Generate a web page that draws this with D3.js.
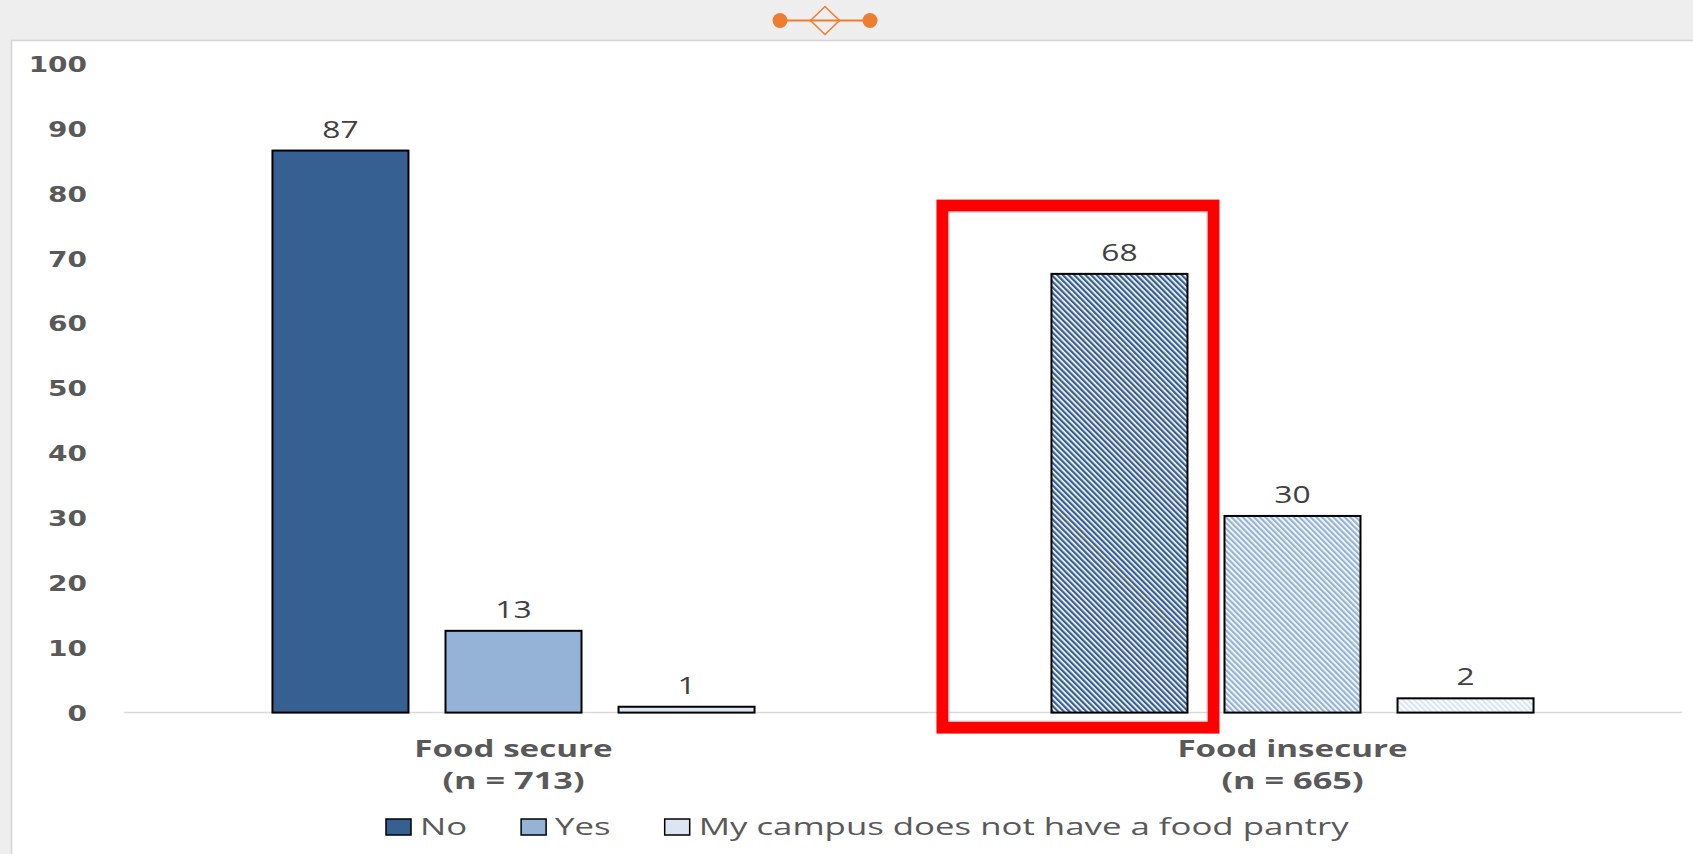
<!DOCTYPE html>
<html>
<head>
<meta charset="utf-8">
<script src="https://cdn.jsdelivr.net/npm/d3@7"></script>
<style>
  html, body { margin: 0; padding: 0; background: #EEEEEE; }
  svg { display: block; }
</style>
</head>
<body>
<svg id="chart" width="1693" height="854"></svg>
<script>
// ---------- data ----------
const categories = ["Food secure", "Food insecure"];
const sampleSizes = ["(n = 713)", "(n = 665)"];
const seriesNames = ["No", "Yes", "My campus does not have a food pantry"];
const noValues = [86.6, 67.6];
const yesValues = [12.6, 30.3];
const pantryValues = [0.9, 2.2];
const yTicks = [0, 10, 20, 30, 40, 50, 60, 70, 80, 90, 100];

// ---------- setup ----------
const W = 1693, H = 854;
const svg = d3.select("#chart");
const seriesValues = [noValues, yesValues, pantryValues];
const solidColors = ["#376092", "#95B3D7", "#DCE6F2"];
const textGray = "#595959";

function stretch(sel, sx) {
  sel.each(function () {
    const w = this.getComputedTextLength();
    d3.select(this).attr("textLength", w * sx).attr("lengthAdjust", "spacingAndGlyphs");
  });
}

// patterns (wide downward diagonal) for the highlighted group
const defs = svg.append("defs");
solidColors.forEach((c, i) => {
  const p = defs.append("pattern")
    .attr("id", "pat" + i)
    .attr("patternUnits", "userSpaceOnUse")
    .attr("width", 4).attr("height", 4)
    .attr("patternTransform", "rotate(-45)");
  p.append("rect").attr("width", 4).attr("height", 4).attr("fill", "#ffffff");
  p.append("rect").attr("width", 2.3).attr("height", 4).attr("fill", c);
});

// background + panel
svg.append("rect").attr("width", W).attr("height", H).attr("fill", "#EEEEEE");
svg.append("rect").attr("x", 11.5).attr("y", 40.5).attr("width", W).attr("height", H)
  .attr("fill", "#ffffff").attr("stroke", "#D4D4D4").attr("stroke-width", 1.5);

// connector icon at top
const icon = svg.append("g").attr("transform", "translate(825,20.5)");
icon.append("line").attr("x1", -45).attr("x2", 45).attr("y1", 0).attr("y2", 0)
  .attr("stroke", "#ED7D31").attr("stroke-width", 2);
icon.append("path").attr("d", "M0,-14 L14.5,0 L0,14 L-14.5,0 Z")
  .attr("fill", "none").attr("stroke", "#ED7D31").attr("stroke-width", 1.5);
[-45, 45].forEach(cx => icon.append("circle").attr("cx", cx).attr("cy", 0).attr("r", 7.5).attr("fill", "#ED7D31"));

// scales
const x0 = d3.scaleBand().domain(categories).range([124, 1682]).paddingInner(0).paddingOuter(0);
const x1 = d3.scaleBand().domain(seriesNames).range([0, x0.bandwidth()]).paddingInner(0.214).paddingOuter(0.858);
const y = d3.scaleLinear().domain([0, 100]).range([712.6, 63.6]);

// y axis
const yAxis = svg.append("g").attr("transform", "translate(124,0)")
  .call(d3.axisLeft(y).tickValues(yTicks).tickSize(0).tickPadding(37).tickFormat(d3.format("d")));
yAxis.select(".domain").remove();
yAxis.selectAll("text")
  .attr("font-family", "'DejaVu Sans', sans-serif")
  .attr("font-weight", "bold")
  .attr("font-size", 21.5)
  .attr("fill", textGray)
  .attr("dy", "0.36em")
  .call(stretch, 1.3);

// baseline
svg.append("line").attr("x1", 124).attr("x2", 1682).attr("y1", y(0)).attr("y2", y(0))
  .attr("stroke", "#D9D9D9").attr("stroke-width", 1.5);

// bars
const barData = [];
categories.forEach((cat, ci) => {
  seriesNames.forEach((s, si) => {
    barData.push({ cat, ci, s, si, v: seriesValues[si][ci] });
  });
});

const fmt = d3.format(".0f");
const bars = svg.append("g");
bars.selectAll("rect").data(barData).join("rect")
  .attr("x", d => x0(d.cat) + x1(d.s))
  .attr("y", d => y(d.v))
  .attr("width", x1.bandwidth())
  .attr("height", d => y(0) - y(d.v))
  .attr("fill", d => d.ci === 1 ? `url(#pat${d.si})` : solidColors[d.si])
  .attr("stroke", "#000000")
  .attr("stroke-width", 2);

const labels = svg.append("g").selectAll("text").data(barData).join("text")
  .attr("x", d => x0(d.cat) + x1(d.s) + x1.bandwidth() / 2)
  .attr("y", d => y(d.v) - 13)
  .attr("text-anchor", "middle")
  .attr("font-family", "'Open Sans', sans-serif")
  .attr("font-size", 23.5)
  .attr("fill", "#404040")
  .text(d => fmt(d.v))
  .call(stretch, 1.35);

// category labels
const catG = svg.append("g");
catG.selectAll("text.cat").data(categories).join("text").attr("class", "cat")
  .attr("x", d => x0(d) + x0.bandwidth() / 2)
  .attr("y", 757)
  .attr("text-anchor", "middle")
  .attr("font-family", "'Open Sans', sans-serif")
  .attr("font-weight", 700)
  .attr("font-size", 23.5)
  .attr("fill", textGray)
  .text(d => d)
  .call(stretch, 1.41);
catG.selectAll("text.n").data(sampleSizes).join("text").attr("class", "n")
  .attr("x", (d, i) => x0(categories[i]) + x0.bandwidth() / 2)
  .attr("y", 789)
  .attr("text-anchor", "middle")
  .attr("font-family", "'Open Sans', sans-serif")
  .attr("font-weight", 700)
  .attr("font-size", 23.5)
  .attr("fill", textGray)
  .text(d => d)
  .call(stretch, 1.46);

// red highlight box around the highlighted bar
const hx = x0(categories[1]) + x1(seriesNames[0]);
const bx0 = hx - 115 + 6, bx1 = hx + x1.bandwidth() + 32 - 6;
const by0 = y(100) + 136 + 6, by1 = y(0) + 21 - 6;
svg.append("rect").attr("x", bx0).attr("y", by0).attr("width", bx1 - bx0).attr("height", by1 - by0)
  .attr("fill", "none").attr("stroke", "#FF0000").attr("stroke-width", 12);
svg.append("rect").attr("x", bx0 + 6.5).attr("y", by0 + 6.5).attr("width", bx1 - bx0 - 13).attr("height", by1 - by0 - 13)
  .attr("fill", "none").attr("stroke", "#C8C8C8").attr("stroke-width", 1);

// legend
const legend = svg.append("g");
let cursor = 386;
seriesNames.forEach((s, i) => {
  legend.append("rect").attr("x", cursor).attr("y", 819).attr("width", 25).attr("height", 16)
    .attr("fill", solidColors[i]).attr("stroke", "#000").attr("stroke-width", 1.5);
  const t = legend.append("text").attr("x", cursor + 34).attr("y", 835)
    .attr("font-family", "'Open Sans', sans-serif")
    .attr("font-size", 23.5)
    .attr("fill", textGray)
    .text(s)
    .call(stretch, 1.48);
  cursor += 34 + (+t.attr("textLength")) + 54;
});
</script>
</body>
</html>
